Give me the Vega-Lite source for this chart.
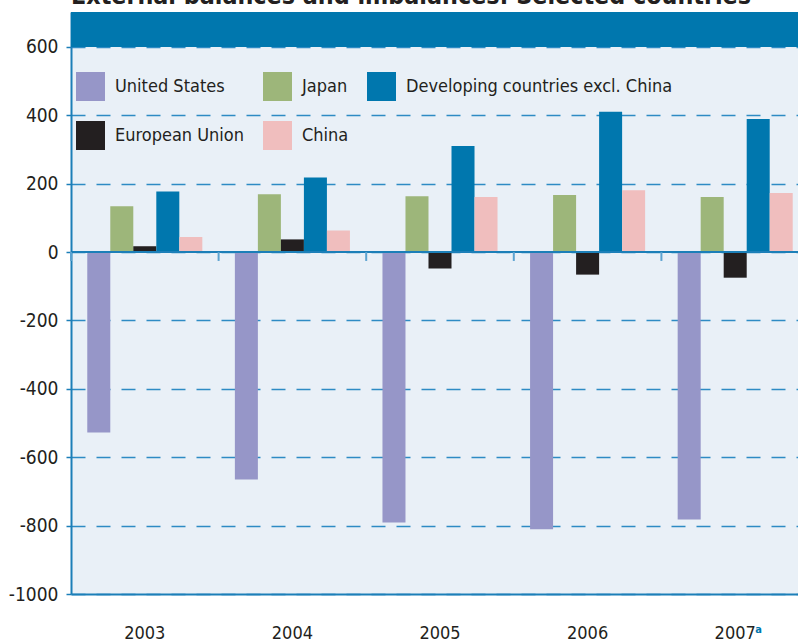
{
  "$schema": "https://vega.github.io/schema/vega-lite/v6.json",
  "width": 727,
  "height": 582,
  "autosize": {"type": "none"},
  "padding": {"left": 71, "top": 12, "right": 0, "bottom": 45},
  "background": "white",
  "config": {
    "view": {"fill": "#E9F0F7", "stroke": null},
    "font": "DejaVu Sans Condensed, sans-serif",
    "axis": {"labelColor": "#231F20", "labelFontSize": 19, "domainColor": "#1C7FB8", "domainWidth": 2, "tickColor": "#1C7FB8", "tickWidth": 1.5}
  },
  "data": {
    "values": [
      {"year": "2003", "country": "United States", "value": -528},
      {"year": "2003", "country": "Japan", "value": 134},
      {"year": "2003", "country": "European Union", "value": 17},
      {"year": "2003", "country": "Developing countries excl. China", "value": 177},
      {"year": "2003", "country": "China", "value": 44},
      {"year": "2004", "country": "United States", "value": -665},
      {"year": "2004", "country": "Japan", "value": 169},
      {"year": "2004", "country": "European Union", "value": 37},
      {"year": "2004", "country": "Developing countries excl. China", "value": 218},
      {"year": "2004", "country": "China", "value": 63},
      {"year": "2005", "country": "United States", "value": -791},
      {"year": "2005", "country": "Japan", "value": 163},
      {"year": "2005", "country": "European Union", "value": -48},
      {"year": "2005", "country": "Developing countries excl. China", "value": 310},
      {"year": "2005", "country": "China", "value": 161},
      {"year": "2006", "country": "United States", "value": -811},
      {"year": "2006", "country": "Japan", "value": 167},
      {"year": "2006", "country": "European Union", "value": -66},
      {"year": "2006", "country": "Developing countries excl. China", "value": 410},
      {"year": "2006", "country": "China", "value": 181},
      {"year": "2007", "country": "United States", "value": -782},
      {"year": "2007", "country": "Japan", "value": 161},
      {"year": "2007", "country": "European Union", "value": -75},
      {"year": "2007", "country": "Developing countries excl. China", "value": 389},
      {"year": "2007", "country": "China", "value": 173}
    ]
  },
  "layer": [
    {
      "mark": {"type": "bar", "clip": true},
      "encoding": {
        "x": {
          "field": "year", "type": "nominal", "title": null,
          "scale": {"range": [0, 738], "paddingInner": 0, "paddingOuter": 0},
          "axis": {"labelAngle": 0, "ticks": false, "labelPadding": 30, "labelBaseline": "top", "grid": false, "labelFontSize": 18}
        },
        "xOffset": {
          "field": "country", "type": "nominal",
          "scale": {"domain": ["United States", "Japan", "European Union", "Developing countries excl. China", "China"], "paddingOuter": 0.707, "paddingInner": 0}
        },
        "y": {
          "field": "value", "type": "quantitative", "title": null,
          "scale": {"domain": [-1000, 702], "nice": false, "zero": false},
          "axis": {
            "values": [-1000, -800, -600, -400, -200, 0, 200, 400, 600],
            "labelExpr": "datum.value + ''",
            "tickSize": 5, "labelPadding": 8,
            "grid": true, "gridColor": "#2E8BC4", "gridDash": [14, 11], "gridWidth": 1.3
          }
        },
        "color": {
          "field": "country", "type": "nominal",
          "scale": {
            "domain": ["United States", "Japan", "Developing countries excl. China", "European Union", "China"],
            "range": ["#9696C8", "#9DB67A", "#0077AE", "#231F20", "#F0BEBE"]
          },
          "legend": {
            "title": null, "orient": "none", "legendX": 5, "legendY": 60,
            "direction": "horizontal", "columns": 3,
            "symbolType": "square", "symbolSize": 841, "symbolStrokeWidth": 0, "symbolOpacity": 1,
            "labelFontSize": 18, "labelColor": "#231F20", "labelOffset": 10, "labelLimit": 400,
            "columnPadding": 18, "rowPadding": 20, "padding": 0
          }
        }
      }
    },
    {
      "data": {"values": [{"v": 0}]},
      "mark": {"type": "rule", "color": "#1C7FB8", "strokeWidth": 2},
      "encoding": {"y": {"field": "v", "type": "quantitative", "title": null}}
    },
    {
      "data": {"values": [{"year": "2003", "a": 0, "b": -26}, {"year": "2004", "a": 0, "b": -26}, {"year": "2005", "a": 0, "b": -26}, {"year": "2006", "a": 0, "b": -26}, {"year": "2007", "a": 0, "b": -26}]},
      "mark": {"type": "rule", "color": "#5BA3D0", "strokeWidth": 2},
      "encoding": {
        "x": {"field": "year", "type": "nominal", "bandPosition": 0, "title": null},
        "y": {"field": "a", "type": "quantitative", "title": null},
        "y2": {"field": "b"}
      }
    },
    {
      "data": {"values": [{"top": 702, "bottom": 600}]},
      "mark": {"type": "rect", "color": "#0077AE"},
      "encoding": {
        "y": {"field": "top", "type": "quantitative", "title": null},
        "y2": {"field": "bottom"}
      }
    },
    {
      "data": {"values": [{"year": "2003", "y": 702, "label": "External balances and imbalances: Selected countries"}]},
      "mark": {"type": "text", "color": "#231F20", "fontSize": 24.8, "fontWeight": "bold", "align": "left", "baseline": "alphabetic", "dy": -8, "clip": false},
      "encoding": {
        "x": {"field": "year", "type": "nominal", "bandPosition": 0, "title": null},
        "y": {"field": "y", "type": "quantitative", "title": null},
        "text": {"field": "label"}
      }
    },
    {
      "data": {"values": [{"year": "2007", "y": -1000, "note": "a"}]},
      "mark": {"type": "text", "color": "#0077AE", "fontSize": 11, "fontWeight": "bold", "align": "left", "baseline": "top", "dx": 20, "dy": 30, "clip": false},
      "encoding": {
        "x": {"field": "year", "type": "nominal", "title": null},
        "y": {"field": "y", "type": "quantitative", "title": null},
        "text": {"field": "note"}
      }
    }
  ]
}
